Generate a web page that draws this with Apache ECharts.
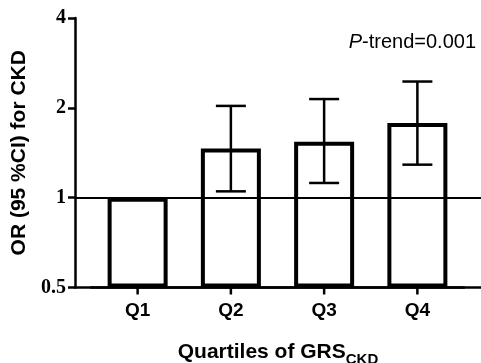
<!DOCTYPE html>
<html>
<head>
<meta charset="utf-8">
<style>
  html, body { margin: 0; padding: 0; background: #fff; }
  #chart { width: 481px; height: 363px; }
</style>
<script src="https://cdn.jsdelivr.net/npm/echarts@6/dist/echarts.min.js"></script>
</head>
<body>
<div id="chart"></div>
<script>
// Odds ratios for CKD by quartile of the genetic risk score
const categories = ['Q1', 'Q2', 'Q3', 'Q4'];
const oddsRatios = [1.00, 1.46, 1.54, 1.78];
const ciLower = [null, 1.05, 1.12, 1.29];
const ciUpper = [null, 2.03, 2.14, 2.45];
const yTickValues = [0.5, 1, 2, 4];
const referenceOR = 1;
const trendText = '-trend=0.001';

const SANS = "'Liberation Sans', Arial, sans-serif";
const SERIF = "'Liberation Serif', 'Times New Roman', serif";

const errorData = [];
categories.forEach((c, i) => {
  if (ciLower[i] != null) errorData.push([i, ciLower[i], ciUpper[i]]);
});
const tickData = categories.map((c, i) => [i, yTickValues[0]]);

const logAxisBase = {
  type: 'log',
  logBase: 2,
  min: yTickValues[0],
  max: yTickValues[yTickValues.length - 1],
  splitLine: { show: false }
};

const axisStroke = { color: '#000', width: 2.5 };

const chart = echarts.init(document.getElementById('chart'), null, { renderer: 'canvas' });

chart.setOption({
  backgroundColor: '#fff',
  animation: false,
  title: {
    text: '{i|P}{n|' + trendText + '}',
    right: 0,
    top: 27,
    textStyle: {
      fontWeight: 'normal',
      rich: {
        i: { fontFamily: SANS, fontSize: 20, fontStyle: 'italic', fontWeight: 'normal', color: '#000' },
        n: { fontFamily: SANS, fontSize: 20, fontWeight: 'normal', color: '#000' }
      }
    }
  },
  grid: [
    // frame: axis lines, reference line, axis names
    { left: 75, right: 0, top: 18, bottom: 75.5, outerBoundsMode: 'none', containLabel: false },
    // bars and error bars
    { left: 91, right: 17, top: 18, bottom: 75.5, outerBoundsMode: 'none', containLabel: false }
  ],
  xAxis: [
    {
      gridIndex: 0,
      type: 'value',
      min: 0,
      max: 1,
      axisLine: { show: true, onZero: false, lineStyle: axisStroke },
      axisTick: { show: false },
      axisLabel: { show: false },
      splitLine: { show: false },
      name: '{a|Quartiles of GRS}{b|CKD}',
      nameLocation: 'middle',
      nameGap: 50,
      nameTextStyle: {
        rich: {
          a: { fontFamily: SANS, fontSize: 21, fontWeight: 'bold', color: '#000', lineHeight: 30 },
          b: { fontFamily: SANS, fontSize: 15, fontWeight: 'bold', color: '#000', lineHeight: 16, verticalAlign: 'bottom' }
        }
      }
    },
    {
      gridIndex: 1,
      type: 'category',
      data: categories,
      position: 'bottom',
      axisLine: { show: true, onZero: false, lineStyle: axisStroke },
      axisTick: { show: false },
      axisLabel: { interval: 0, fontFamily: SANS, fontSize: 19, fontWeight: 'bold', color: '#000', margin: 14 }
    }
  ],
  yAxis: [
    Object.assign({}, logAxisBase, {
      gridIndex: 0,
      axisLine: { show: true, onZero: false, lineStyle: axisStroke },
      axisTick: { show: true, length: 7, lineStyle: axisStroke },
      axisLabel: {
        fontFamily: SERIF, fontSize: 20, fontWeight: 'bold', color: '#000', margin: 9,
        formatter: v => String(v)
      },
      name: 'OR (95 %CI) for CKD',
      nameLocation: 'middle',
      nameGap: 45,
      nameTextStyle: { fontFamily: SANS, fontSize: 21, fontWeight: 'bold', color: '#000' }
    }),
    Object.assign({}, logAxisBase, {
      gridIndex: 1,
      axisLine: { show: false },
      axisTick: { show: false },
      axisLabel: { show: false },
      startValue: yTickValues[0]
    })
  ],
  series: [
    {
      // reference line at OR = 1
      type: 'line',
      xAxisIndex: 0,
      yAxisIndex: 0,
      data: [],
      z: 1,
      silent: true,
      markLine: {
        silent: true,
        symbol: 'none',
        label: { show: false },
        lineStyle: { color: '#000', width: 2, type: 'solid' },
        data: [{ yAxis: referenceOR }]
      }
    },
    {
      type: 'bar',
      xAxisIndex: 1,
      yAxisIndex: 1,
      data: oddsRatios,
      barWidth: 60,
      z: 3,
      itemStyle: { color: '#fff', borderColor: '#000', borderWidth: 4 }
    },
    {
      // 95% CI whiskers
      type: 'custom',
      xAxisIndex: 1,
      yAxisIndex: 1,
      z: 4,
      silent: true,
      data: errorData,
      renderItem: function (params, api) {
        const i = api.value(0);
        const lo = api.coord([i, api.value(1)]);
        const hi = api.coord([i, api.value(2)]);
        const half = 15;
        const style = { stroke: '#000', lineWidth: 2.5, fill: null };
        return {
          type: 'group',
          children: [
            { type: 'line', shape: { x1: hi[0], y1: hi[1], x2: lo[0], y2: lo[1] }, style: style },
            { type: 'line', shape: { x1: hi[0] - half, y1: hi[1], x2: hi[0] + half, y2: hi[1] }, style: style },
            { type: 'line', shape: { x1: lo[0] - half, y1: lo[1], x2: lo[0] + half, y2: lo[1] }, style: style }
          ]
        };
      }
    },
    {
      // category tick marks below the x axis
      type: 'custom',
      xAxisIndex: 1,
      yAxisIndex: 1,
      z: 4,
      silent: true,
      clip: false,
      data: tickData,
      renderItem: function (params, api) {
        const p = api.coord([api.value(0), api.value(1)]);
        return {
          type: 'line',
          shape: { x1: p[0], y1: p[1], x2: p[0], y2: p[1] + 7 },
          style: { stroke: '#000', lineWidth: 2.5 }
        };
      }
    }
  ]
});
</script>
</body>
</html>
